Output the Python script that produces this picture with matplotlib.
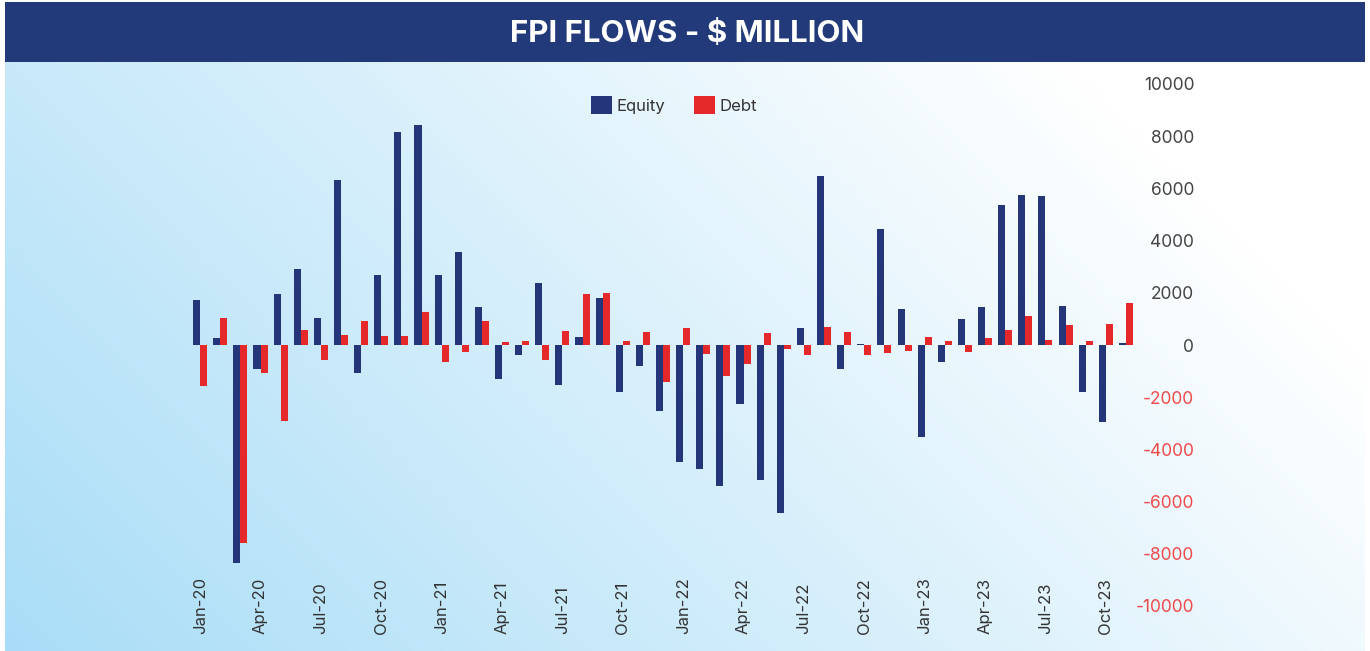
import numpy as np
import matplotlib
matplotlib.use("Agg")
import matplotlib.pyplot as plt
from matplotlib.patches import Rectangle, Patch
from matplotlib.colors import LinearSegmentedColormap

plt.rcParams['font.family'] = ['Inter', 'DejaVu Sans']

# ---------------- data ----------------
months = ["Jan-20", "Feb-20", "Mar-20", "Apr-20", "May-20", "Jun-20", "Jul-20", "Aug-20",
          "Sep-20", "Oct-20", "Nov-20", "Dec-20",
          "Jan-21", "Feb-21", "Mar-21", "Apr-21", "May-21", "Jun-21", "Jul-21", "Aug-21",
          "Sep-21", "Oct-21", "Nov-21", "Dec-21",
          "Jan-22", "Feb-22", "Mar-22", "Apr-22", "May-22", "Jun-22", "Jul-22", "Aug-22",
          "Sep-22", "Oct-22", "Nov-22", "Dec-22",
          "Jan-23", "Feb-23", "Mar-23", "Apr-23", "May-23", "Jun-23", "Jul-23", "Aug-23",
          "Sep-23", "Oct-23", "Nov-23"]

equity = [1720, 270, -8350, -920, 1950, 2910, 1030, 6320, -1070, 2680, 8160, 8430,
          2680, 3560, 1460, -1300, -380, 2375, -1530, 305, 1800, -1800, -805, -2530,
          -4480, -4750, -5400, -2260, -5170, -6440, 650, 6475, -920, 40, 4445, 1380,
          -3525, -650, 1000, 1460, 5365, 5750, 5710, 1495, -1800, -2950, 75]

debt = [-1570, 1030, -7590, -1070, -2910, 575, -575, 380, 920, 345, 345, 1265,
        -650, -270, 920, 115, 150, -575, 535, 1955, 1990, 150, 500, -1420,
        650, -345, -1190, -730, 460, -150, -380, 690, 500, -380, -305, -230,
        305, 150, -270, 270, 575, 1110, 190, 765, 150, 805, 1610]

tick_labels = ["Jan-20", "Apr-20", "Jul-20", "Oct-20", "Jan-21", "Apr-21", "Jul-21", "Oct-21",
               "Jan-22", "Apr-22", "Jul-22", "Oct-22", "Jan-23", "Apr-23", "Jul-23", "Oct-23"]

y_ticks = [-10000, -8000, -6000, -4000, -2000, 0, 2000, 4000, 6000, 8000, 10000]

title = "FPI FLOWS - $ MILLION"
series_names = ["Equity", "Debt"]

# ---------------- style ----------------
NAVY = "#24357a"
RED = "#e5282a"
BANNER = "#233a7a"
W, H = 1370, 651

fig = plt.figure(figsize=(W / 100, H / 100), dpi=100)
fig.patch.set_facecolor("white")

# gradient background
bg = fig.add_axes([5 / W, 0, 1360 / W, 589 / H], zorder=-2)
nx, ny = 400, 200
u = np.linspace(0, 1, nx)[None, :]
v = np.linspace(1, 0, ny)[:, None]
t = 0.7 * u + 0.3 * v
f = np.clip(t / 0.85, 0, 1)
cmap = LinearSegmentedColormap.from_list("bgc", ["#a9ddf7", "#ffffff"])
bg.imshow(f, cmap=cmap, aspect="auto", extent=[0, 1, 0, 1], vmin=0, vmax=1,
          interpolation="bilinear")
bg.set_axis_off()

# title banner
fig.patches.append(Rectangle((5 / W, 1 - 62 / H), 1360 / W, 60 / H,
                             transform=fig.transFigure, facecolor=BANNER,
                             edgecolor="none", zorder=-1))
fig.text(687 / W, 1 - 34 / H, title, color="white", fontsize=22.5, fontweight="bold",
         ha="center", va="center")

# main axes
ax = fig.add_axes([180 / W, 1 - 606 / H, 956 / W, 522 / H])
ax.patch.set_alpha(0)
x = np.arange(len(months))
bw = 0.35
ax.bar(x - bw / 2, equity, bw, color=NAVY, label=series_names[0], zorder=3)
ax.bar(x + bw / 2, debt, bw, color=RED, label=series_names[1], zorder=3)

ax.set_xlim(-1, 46.5)
ax.set_ylim(-10000, 10000)
for s in ax.spines.values():
    s.set_visible(False)

# y axis on right
ax.yaxis.tick_right()
ax.set_yticks(y_ticks)
ax.set_yticklabels([str(v_) for v_ in y_ticks], ha="right")
ax.tick_params(axis="y", length=0, pad=42, labelsize=12.5)
for lab, val in zip(ax.get_yticklabels(), y_ticks):
    lab.set_color("#ee4b4b" if val < 0 else "#444444")

# x axis
tick_pos = [months.index(m) for m in tick_labels]
ax.set_xticks(tick_pos)
ax.set_xticklabels(tick_labels, rotation=90, va="bottom", ha="center", color="#333333")
ax.tick_params(axis="x", length=0, pad=20, labelsize=12)

# legend
handles = [Patch(facecolor=NAVY, edgecolor="none"), Patch(facecolor=RED, edgecolor="none")]
fig.legend(handles, series_names, loc="center", bbox_to_anchor=(674 / W, 1 - 105 / H),
           ncol=2, frameon=False, fontsize=12, handlelength=1.3, handleheight=1.3,
           handletextpad=0.25, columnspacing=1.7, labelcolor="#333333")

fig.savefig("out.png", dpi=100)
